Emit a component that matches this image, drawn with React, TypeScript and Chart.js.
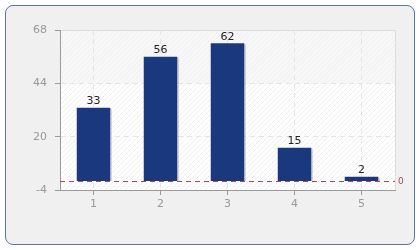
import React, { useEffect, useRef } from "react";
import { Chart, registerables } from "chart.js";

Chart.register(...registerables);

const categories = ["1", "2", "3", "4", "5"];
const values = [33, 56, 62, 15, 2];
const yTicks = [-4, 20, 44, 68];

const FONT = "'DejaVu Sans', Verdana, sans-serif";

const backgroundPlugin = {
  id: "bgPlugin",
  beforeDraw(chart: any) {
    const { ctx, chartArea: a, scales } = chart;
    ctx.save();
    ctx.fillStyle = "#ffffff";
    ctx.fillRect(a.left, a.top, a.right - a.left, a.bottom - a.top);
    const y = scales.y;
    const top1 = y.getPixelForValue(yTicks[yTicks.length - 1]);
    const top2 = y.getPixelForValue(yTicks[yTicks.length - 2]);
    ctx.fillStyle = "#f7f7f7";
    ctx.fillRect(a.left, top1, a.right - a.left, top2 - top1);
    ctx.beginPath();
    ctx.rect(a.left, a.top, a.right - a.left, a.bottom - a.top);
    ctx.clip();
    ctx.strokeStyle = "#efefef";
    ctx.lineWidth = 1;
    const h = a.bottom - a.top;
    for (let x = a.left - h; x < a.right + h; x += 5) {
      ctx.beginPath();
      ctx.moveTo(x, a.bottom);
      ctx.lineTo(x + h, a.top);
      ctx.stroke();
    }
    ctx.restore();
    ctx.save();
    ctx.strokeStyle = "#dddddd";
    ctx.lineWidth = 1;
    ctx.beginPath();
    ctx.moveTo(a.left, a.top + 0.5);
    ctx.lineTo(a.right + 0.5, a.top + 0.5);
    ctx.lineTo(a.right + 0.5, a.bottom);
    ctx.stroke();
    ctx.restore();
  },
  afterDatasetsDraw(chart: any) {
    const { ctx, chartArea: a, scales } = chart;
    const y0 = Math.round(scales.y.getPixelForValue(0)) + 0.5;
    ctx.save();
    ctx.strokeStyle = "#b34557";
    ctx.lineWidth = 1;
    ctx.setLineDash([5, 4]);
    ctx.beginPath();
    ctx.moveTo(a.left, y0);
    ctx.lineTo(a.right, y0);
    ctx.stroke();
    ctx.setLineDash([]);
    ctx.fillStyle = "#b34557";
    ctx.font = `9px ${FONT}`;
    ctx.textAlign = "left";
    ctx.textBaseline = "middle";
    ctx.fillText("0", a.right + 3, y0);
    const meta = chart.getDatasetMeta(0);
    ctx.fillStyle = "#222222";
    ctx.font = `11px ${FONT}`;
    ctx.textAlign = "center";
    ctx.textBaseline = "bottom";
    meta.data.forEach((el: any, i: number) => {
      ctx.fillText(String(values[i]), el.x, el.y - 1);
    });
    ctx.restore();
  },
};

const shadowPlugin = {
  id: "shadowPlugin",
  beforeDatasetsDraw(chart: any) {
    const { ctx } = chart;
    const meta = chart.getDatasetMeta(0);
    ctx.save();
    ctx.fillStyle = "rgba(0,0,0,0.2)";
    meta.data.forEach((el: any) => {
      const left = el.x + el.width / 2;
      ctx.fillRect(left, el.y + 1, 1.5, el.base - el.y - 1);
    });
    ctx.restore();
  },
};

export default function App() {
  const ref = useRef<HTMLCanvasElement>(null);
  useEffect(() => {
    if (!ref.current) return;
    const chart = new Chart(ref.current, {
      type: "bar",
      data: {
        labels: categories,
        datasets: [
          {
            data: values,
            backgroundColor: "#19387d",
            borderWidth: 0,
            barPercentage: 0.5,
            categoryPercentage: 1,
          },
        ],
      },
      options: {
        responsive: false,
        animation: false,
        layout: { padding: { left: 0, right: 25, top: 30, bottom: 25 } },
        plugins: { legend: { display: false }, tooltip: { enabled: false } },
        scales: {
          x: {
            grid: {
              offset: false,
              color: "#e4e4e4",
              tickColor: "#999999",
              tickLength: 5,
              drawOnChartArea: true,
            },
            border: { color: "#999999", width: 1, dash: [5, 4] },
            ticks: { color: "#999999", font: { family: FONT, size: 11 }, padding: 3 },
            afterFit: (s: any) => {
              s.height = 35;
            },
          },
          y: {
            min: -4,
            max: 68,
            afterBuildTicks: (s: any) => {
              s.ticks = yTicks.map((v) => ({ value: v }));
            },
            grid: {
              color: (c: any) => (c.tick && c.tick.value === 68 ? "rgba(0,0,0,0)" : "#e4e4e4"),
              tickColor: "#999999",
              tickLength: 5,
            },
            border: { color: "#999999", width: 1, dash: [5, 4] },
            ticks: { color: "#999999", font: { family: FONT, size: 11 }, padding: 8 },
            afterFit: (s: any) => {
              s.width = 60;
            },
          },
        },
      },
      plugins: [backgroundPlugin, shadowPlugin],
    });
    return () => chart.destroy();
  }, []);
  return (
    <div style={{ position: "fixed", left: 0, top: 0, width: 420, height: 250, background: "#ffffff" }}>
      <div
        style={{
          position: "absolute",
          left: 5,
          top: 5,
          width: 408,
          height: 238,
          border: "1px solid #5a73ae",
          borderRadius: 8,
          background: "#f0f0f0",
        }}
      />
      <canvas ref={ref} width={420} height={250} style={{ position: "absolute", left: 0, top: 0 }} />
    </div>
  );
}
